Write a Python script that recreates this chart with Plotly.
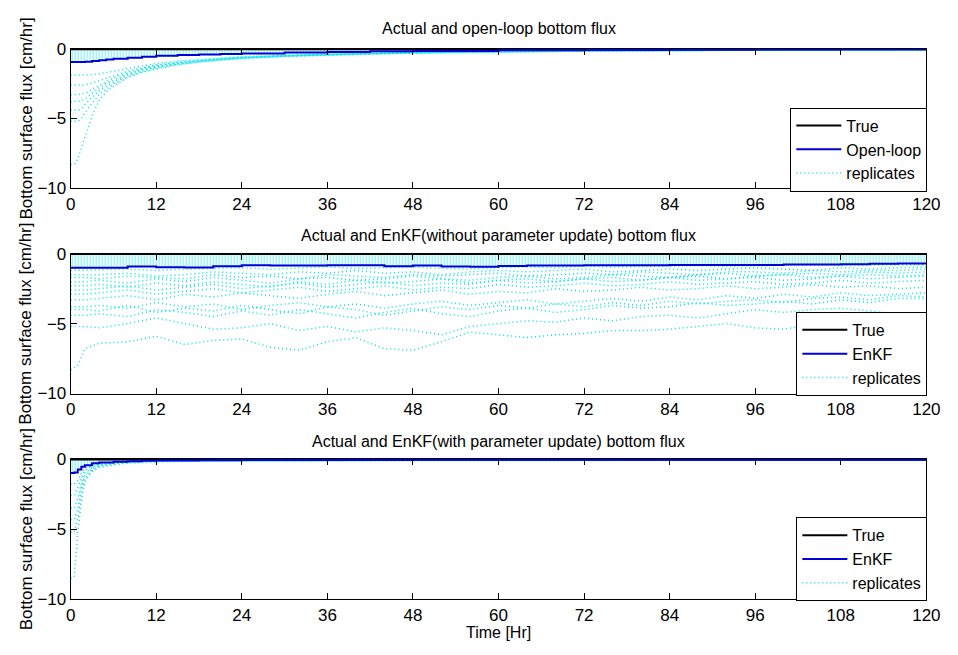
import plotly.graph_objects as go

# ---------------- data ----------------
# Panel 1: open-loop
T1 = [0, 0.5, 1, 1.5, 2, 3, 4, 5, 6, 8, 10, 12, 15, 18, 21, 24, 30, 36, 42, 48, 60, 72, 84, 96, 108, 120]
TRUE1 = [-0.03] * len(T1)
OPENLOOP = [-0.95, -0.95, -0.95, -0.95, -0.93, -0.88, -0.82, -0.77, -0.72, -0.64, -0.57, -0.5, -0.45,
            -0.4, -0.37, -0.33, -0.27, -0.22, -0.18, -0.15, -0.11, -0.08, -0.06, -0.05, -0.04, -0.03]
REP1 = [
    [-8.3, -8.3, -7.9, -7.1, -6.3, -4.8, -3.7, -3.1, -2.7, -2.05, -1.7, -1.45, -1.15, -0.95, -0.82, -0.7, -0.55, -0.45, -0.37, -0.3, -0.22, -0.16, -0.12, -0.1, -0.08, -0.07],
    [-5.2, -5.2, -5.2, -5.0, -4.6, -3.9, -3.3, -2.9, -2.55, -2.0, -1.65, -1.4, -1.12, -0.93, -0.8, -0.68, -0.53, -0.43, -0.36, -0.3, -0.21, -0.16, -0.12, -0.1, -0.08, -0.07],
    [-4.4, -4.4, -4.4, -4.3, -4.0, -3.5, -3.0, -2.7, -2.4, -1.9, -1.58, -1.33, -1.08, -0.9, -0.77, -0.66, -0.51, -0.42, -0.35, -0.29, -0.21, -0.15, -0.12, -0.09, -0.08, -0.07],
    [-3.8, -3.8, -3.8, -3.75, -3.6, -3.2, -2.8, -2.5, -2.25, -1.8, -1.5, -1.27, -1.03, -0.87, -0.74, -0.64, -0.5, -0.41, -0.34, -0.28, -0.2, -0.15, -0.11, -0.09, -0.08, -0.06],
    [-3.3, -3.3, -3.3, -3.25, -3.2, -2.9, -2.6, -2.35, -2.1, -1.7, -1.43, -1.2, -0.99, -0.84, -0.72, -0.62, -0.48, -0.4, -0.33, -0.27, -0.2, -0.15, -0.11, -0.09, -0.07, -0.06],
    [-2.6, -2.6, -2.6, -2.6, -2.6, -2.45, -2.3, -2.1, -1.95, -1.6, -1.35, -1.15, -0.95, -0.81, -0.7, -0.6, -0.47, -0.39, -0.32, -0.27, -0.19, -0.14, -0.11, -0.09, -0.07, -0.06],
    [-1.9, -1.9, -1.9, -1.9, -1.9, -1.85, -1.8, -1.7, -1.6, -1.4, -1.2, -1.05, -0.88, -0.76, -0.66, -0.57, -0.45, -0.37, -0.31, -0.26, -0.19, -0.14, -0.1, -0.08, -0.07, -0.06],
]

# Panel 2: EnKF without parameter update
T2 = [0, 1, 2, 4, 8, 12, 16, 20, 24, 28, 32, 36, 40, 44, 48, 52, 56, 60, 64, 68, 72, 76, 80, 84, 88, 92, 96, 100, 104, 108, 112, 116, 120]
TRUE2 = [-0.03] * len(T2)
ENKF2 = [-1.0, -1.0, -1.0, -1.0, -0.92, -0.97, -0.98, -0.9, -0.83, -0.85, -0.85, -0.83, -0.83, -0.9, -0.85, -0.92,
         -0.93, -0.88, -0.85, -0.85, -0.83, -0.82, -0.82, -0.8, -0.8, -0.8, -0.8, -0.78, -0.78, -0.75, -0.72, -0.7, -0.7]
REP2 = [
    [-8.3, -8.0, -6.8, -6.4, -6.3, -5.9, -6.5, -6.2, -6.1, -6.7, -6.9, -6.3, -6.0, -6.8, -6.9, -6.3, -5.6, -5.8, -6.0, -5.8, -5.7, -5.5, -5.5, -5.4, -5.2, -5.0, -5.3, -5.4, -5.1, -4.9, -4.7, -4.5, -4.4],
    [-5.2, -5.2, -5.2, -5.3, -5.0, -4.6, -5.0, -5.4, -5.3, -5.0, -5.5, -5.2, -5.6, -5.3, -5.5, -5.8, -5.2, -5.0, -4.8, -4.9, -4.6, -4.8, -4.5, -4.4, -4.6, -4.3, -4.0, -4.2, -4.0, -3.9, -4.1, -4.3, -4.3],
    [-4.4, -4.4, -4.4, -4.3, -4.5, -4.0, -4.2, -4.5, -4.1, -4.4, -4.0, -4.3, -4.6, -4.2, -3.9, -4.3, -4.5, -4.1, -3.9, -4.2, -4.0, -3.7, -3.9, -3.8, -3.5, -3.7, -3.6, -3.4, -3.6, -3.3, -3.5, -3.2, -3.2],
    [-4.0, -4.0, -4.0, -4.1, -3.7, -4.2, -3.9, -4.1, -3.7, -4.0, -4.3, -3.8, -4.0, -4.4, -4.1, -3.8, -4.0, -3.7, -3.9, -3.6, -3.8, -3.5, -3.7, -3.4, -3.6, -3.4, -3.3, -3.5, -3.2, -3.1, -3.3, -3.0, -3.1],
    [-3.8, -3.8, -3.8, -3.7, -3.9, -3.5, -3.8, -3.6, -4.0, -3.7, -3.5, -3.8, -3.6, -3.9, -3.6, -3.4, -3.7, -3.5, -3.3, -3.6, -3.4, -3.2, -3.4, -3.1, -3.3, -3.0, -3.2, -2.9, -3.1, -2.8, -3.0, -2.9, -2.8],
    [-3.3, -3.3, -3.3, -3.2, -3.0, -3.3, -2.9, -3.1, -2.8, -3.0, -3.2, -2.9, -2.7, -3.0, -2.8, -2.6, -2.9, -2.7, -2.8, -2.5, -2.7, -2.6, -2.4, -2.6, -2.5, -2.3, -2.5, -2.4, -2.2, -2.4, -2.3, -2.5, -2.4],
    [-2.9, -2.9, -2.9, -2.8, -2.6, -2.9, -2.7, -2.5, -2.8, -2.6, -2.4, -2.7, -2.5, -2.3, -2.6, -2.4, -2.5, -2.2, -2.4, -2.3, -2.1, -2.3, -2.2, -2.0, -2.2, -2.1, -2.0, -2.2, -2.1, -1.9, -2.1, -2.0, -1.9],
    [-2.6, -2.6, -2.6, -2.5, -2.3, -2.6, -2.4, -2.2, -2.5, -2.3, -2.1, -2.4, -2.2, -2.0, -2.3, -2.1, -2.2, -1.9, -2.1, -2.0, -1.8, -2.0, -1.9, -1.7, -1.9, -1.8, -1.7, -1.9, -1.8, -1.6, -1.8, -1.7, -1.6],
    [-2.3, -2.3, -2.3, -2.2, -2.4, -2.1, -2.3, -2.0, -2.2, -2.4, -2.0, -2.2, -1.9, -2.1, -2.0, -1.8, -2.1, -1.9, -1.8, -2.0, -1.8, -1.7, -1.9, -1.7, -1.6, -1.8, -1.6, -1.5, -1.7, -1.6, -1.5, -1.6, -1.5],
    [-2.0, -2.0, -2.0, -1.9, -2.1, -1.8, -2.0, -1.7, -1.9, -2.1, -1.8, -1.7, -1.9, -1.8, -1.6, -1.8, -1.9, -1.7, -1.6, -1.8, -1.7, -1.5, -1.6, -1.7, -1.5, -1.4, -1.6, -1.5, -1.4, -1.5, -1.3, -1.4, -1.3],
    [-1.7, -1.7, -1.7, -1.8, -1.6, -1.7, -1.8, -1.5, -1.7, -1.6, -1.8, -1.5, -1.6, -1.7, -1.5, -1.6, -1.5, -1.4, -1.6, -1.5, -1.4, -1.5, -1.3, -1.4, -1.5, -1.3, -1.3, -1.4, -1.2, -1.3, -1.2, -1.2, -1.1],
    [-1.5, -1.5, -1.5, -1.5, -1.4, -1.6, -1.5, -1.3, -1.4, -1.5, -1.3, -1.4, -1.2, -1.4, -1.3, -1.5, -1.3, -1.2, -1.3, -1.2, -1.1, -1.3, -1.2, -1.1, -1.2, -1.1, -1.0, -1.1, -1.2, -1.0, -1.1, -1.0, -0.95],
    [-1.2, -1.2, -1.2, -1.15, -1.1, -1.2, -1.1, -1.05, -1.0, -1.1, -1.0, -0.95, -1.05, -1.0, -0.95, -1.05, -1.1, -1.0, -0.95, -1.0, -0.9, -0.95, -0.9, -0.9, -0.85, -0.9, -0.85, -0.85, -0.8, -0.85, -0.8, -0.8, -0.78],
]

# Panel 3: EnKF with parameter update
T3 = [0, 0.5, 1, 1.5, 2, 3, 4, 6, 8, 10, 12, 18, 24, 36, 48, 60, 72, 84, 96, 108, 120]
TRUE3 = [-0.03] * len(T3)
ENKF3 = [-1.0, -0.95, -0.75, -0.55, -0.45, -0.3, -0.25, -0.2, -0.15, -0.12, -0.1, -0.08, -0.07, -0.06,
         -0.05, -0.05, -0.05, -0.05, -0.05, -0.05, -0.05]
REP3 = [
    [-8.5, -8.4, -5.2, -3.0, -1.6, -0.9, -0.6, -0.42, -0.3, -0.24, -0.2, -0.16, -0.14, -0.12, -0.11, -0.1, -0.1, -0.09, -0.09, -0.09, -0.08],
    [-5.2, -5.2, -4.2, -2.5, -1.4, -0.8, -0.5, -0.35, -0.25, -0.2, -0.17, -0.14, -0.12, -0.11, -0.1, -0.1, -0.09, -0.09, -0.08, -0.08, -0.08],
    [-4.3, -4.3, -3.5, -2.0, -1.2, -0.7, -0.45, -0.3, -0.22, -0.18, -0.15, -0.13, -0.11, -0.1, -0.09, -0.09, -0.08, -0.08, -0.08, -0.07, -0.07],
    [-3.5, -3.5, -2.8, -1.7, -1.0, -0.6, -0.4, -0.28, -0.2, -0.16, -0.14, -0.12, -0.1, -0.09, -0.09, -0.08, -0.08, -0.07, -0.07, -0.07, -0.07],
    [-2.6, -2.6, -2.0, -1.3, -0.8, -0.5, -0.35, -0.25, -0.18, -0.15, -0.13, -0.11, -0.1, -0.09, -0.08, -0.08, -0.07, -0.07, -0.07, -0.06, -0.06],
    [-1.8, -1.8, -1.5, -1.0, -0.7, -0.45, -0.3, -0.22, -0.16, -0.13, -0.12, -0.1, -0.09, -0.08, -0.08, -0.07, -0.07, -0.06, -0.06, -0.06, -0.06],
]

TITLES = ["Actual and open-loop bottom flux",
          "Actual and EnKF(without parameter update) bottom flux",
          "Actual and EnKF(with parameter update) bottom flux"]
EST_NAMES = ["Open-loop", "EnKF", "EnKF"]
XTICKS = list(range(0, 121, 12))
YTICKS = [-10, -5, 0]
YLABEL = "Bottom surface flux [cm/hr]"
XLABEL = "Time [Hr]"

# ---------------- figure ----------------
W, H = 958, 655
FONT = "Liberation Sans, Arial, sans-serif"
CYAN = "rgb(0,225,230)"
BLUE = "rgb(0,0,215)"

def px_x(x):   # pixel -> paper fraction
    return x / W

def px_y(y):
    return 1 - y / H

# (times, true, estimate, replicates, (axis top px, axis bottom px), legend top px, title centre px)
panels = [
    (T1, TRUE1, OPENLOOP, REP1, (41, 184.5), 101.5, 20),
    (T2, TRUE2, ENKF2, REP2, (252, 396), 312, 233),
    (T3, TRUE3, ENKF3, REP3, (463.5, 608), 523.5, 445),
]

fig = go.Figure()
x_dom = [px_x(67), px_x(940)]
x_mid = px_x((67 + 940) / 2)
annotations = []

for i, (T, TR, EST, REPS, (ytop, ybot), legtop, ttl) in enumerate(panels):
    n = i + 1
    xa = "x" if n == 1 else f"x{n}"
    ya = "y" if n == 1 else f"y{n}"
    leg = "legend" if n == 1 else f"legend{n}"

    # striped band of replicate resets (vertical dotted stripes between 0 and the estimate)
    fig.add_trace(go.Scatter(
        x=T, y=EST, xaxis=xa, yaxis=ya, mode="lines", line=dict(width=0, shape="hv"),
        fill="tozeroy", fillcolor="rgba(0,0,0,0)",
        fillpattern=dict(shape="|", fgcolor="rgba(0,225,230,1)", bgcolor="rgba(0,0,0,0)",
                         size=3, solidity=0.4),
        showlegend=False, hoverinfo="skip", legend=leg))

    for k, r in enumerate(REPS):
        fig.add_trace(go.Scatter(
            x=T, y=r, xaxis=xa, yaxis=ya, mode="lines",
            line=dict(color=CYAN, width=1.5, dash="1px,3px"),
            name="replicates", legendgroup=f"rep{n}", showlegend=(k == 0),
            legend=leg, legendrank=3))

    fig.add_trace(go.Scatter(
        x=T, y=TR, xaxis=xa, yaxis=ya, mode="lines",
        line=dict(color="black", width=2), name="True", legend=leg, legendrank=1))
    fig.add_trace(go.Scatter(
        x=T, y=EST, xaxis=xa, yaxis=ya, mode="lines",
        line=dict(color=BLUE, width=2, shape="hv"), name=EST_NAMES[i], legend=leg, legendrank=2))

    axis_common = dict(showline=True, linecolor="black", linewidth=1, mirror="ticks",
                       ticks="inside", ticklen=6, tickcolor="black", showgrid=False,
                       zeroline=False, tickfont=dict(family=FONT, size=17, color="black"))
    fig.layout[f"xaxis{'' if n == 1 else n}"] = dict(
        domain=x_dom, anchor=ya, range=[0, 120], tickvals=XTICKS, **axis_common)
    fig.layout[f"yaxis{'' if n == 1 else n}"] = dict(
        domain=[px_y(ybot), px_y(ytop)], anchor=xa, range=[-10, 0], tickvals=YTICKS, **axis_common)

    fig.layout[leg] = dict(
        x=px_x(941), xanchor="right", y=px_y(legtop), yanchor="top",
        bgcolor="white", bordercolor="black", borderwidth=1,
        font=dict(family=FONT, size=16, color="black"),
        itemwidth=45, tracegroupgap=0, traceorder="normal")

    annotations.append(dict(text=TITLES[i], x=x_mid, y=px_y(ttl), xref="paper", yref="paper",
                            xanchor="center", yanchor="middle", showarrow=False,
                            font=dict(family=FONT, size=16, color="black")))
    annotations.append(dict(text=YLABEL, x=px_x(21.5), y=px_y((ytop + ybot) / 2), xref="paper", yref="paper",
                            xanchor="center", yanchor="middle", textangle=-90, showarrow=False,
                            font=dict(family=FONT, size=17, color="black")))

annotations.append(dict(text=XLABEL, x=x_mid, y=px_y(642), xref="paper", yref="paper",
                        xanchor="center", yanchor="middle", showarrow=False,
                        font=dict(family=FONT, size=16, color="black")))

fig.update_layout(
    width=W, height=H, margin=dict(l=0, r=0, t=0, b=0),
    plot_bgcolor="white", paper_bgcolor="white",
    annotations=annotations, showlegend=True,
    font=dict(family=FONT, color="black"),
)

fig.write_html("out.html")
